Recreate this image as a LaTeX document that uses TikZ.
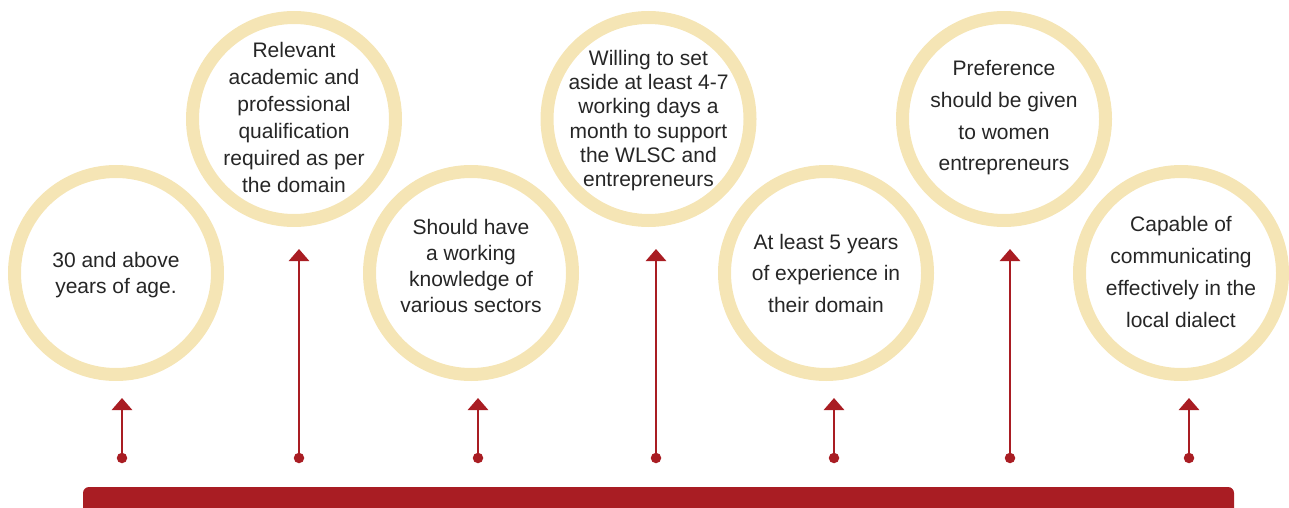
\documentclass[tikz,border=0pt]{standalone}
\usepackage{fontspec}
\setmainfont{Liberation Sans}
\usetikzlibrary{arrows.meta}
\definecolor{barred}{HTML}{A91D23}
\definecolor{ringbeige}{HTML}{F5E5B5}
\definecolor{txtgray}{HTML}{262626}
\tikzset{
  ring/.style={circle, draw=ringbeige, line width=13pt, minimum size=203pt, inner sep=0pt},
  ringtext/.style={align=center, text=txtgray, inner sep=0pt, font=\fontsize{21}{#1}\selectfont},
  ringtext/.default=26.5,
  dotnode/.style={circle, fill=barred, minimum size=10.5pt, inner sep=0pt},
  arr/.style={draw=barred, line width=2.8pt, -{Triangle[width=20pt,length=12pt]}},
}
\begin{document}
\begin{tikzpicture}[x=1pt,y=-1pt]
\useasboundingbox (0,0) rectangle (1289,508);
\clip (0,0) rectangle (1289,508);
% circles
\node[ring] (c1) at (116,273) {};
\node[ring] (c2) at (294,119) {};
\node[ring] (c3) at (471,273) {};
\node[ring] (c4) at (648.5,119) {};
\node[ring] (c5) at (826,273) {};
\node[ring] (c6) at (1004,119) {};
\node[ring] (c7) at (1181,273) {};
% texts (yshift is in page direction: positive = up)
\node[ringtext=26.5] (l1) at ([yshift=-2pt]c1.center) {30 and above\\years of age.};
\node[ringtext=27] (l2) at ([yshift=2pt]c2.center) {Relevant\\academic and\\professional\\qualification\\required as per\\the domain};
\node[ringtext=26.3] (l3) at ([yshift=7pt]c3.center) {Should have\\a working\\knowledge of\\various sectors};
\node[ringtext=24.2] (l4) at ([yshift=-1.5pt]c4.center) {Willing to set\\aside at least 4-7\\working days a\\month to support\\the WLSC and\\entrepreneurs};
\node[ringtext=31.5] (l5) at (c5.center) {At least 5 years\\of experience in\\their domain};
\node[ringtext=31.7] (l6) at ([yshift=1pt]c6.center) {Preference\\should be given\\to women\\entrepreneurs};
\node[ringtext=31.7] (l7) at ([yshift=1pt]c7.center) {Capable of\\communicating\\effectively in the\\local dialect};
% dots
\node[dotnode] (d1) at (122,458) {};
\node[dotnode] (d2) at (299,458) {};
\node[dotnode] (d3) at (478,458) {};
\node[dotnode] (d4) at (656,458) {};
\node[dotnode] (d5) at (834,458) {};
\node[dotnode] (d6) at (1010,458) {};
\node[dotnode] (d7) at (1189,458) {};
% arrow tips
\coordinate (t1) at (122,398);
\coordinate (t2) at (299,249);
\coordinate (t3) at (478,398);
\coordinate (t4) at (656,249);
\coordinate (t5) at (834,398);
\coordinate (t6) at (1010,249);
\coordinate (t7) at (1189,398);
\foreach \i in {1,...,7} {\draw[arr] (d\i.center) -- (t\i);}
% bar
\fill[barred, rounded corners=6pt] (83,487) rectangle (1234,530);
\end{tikzpicture}
\end{document}
